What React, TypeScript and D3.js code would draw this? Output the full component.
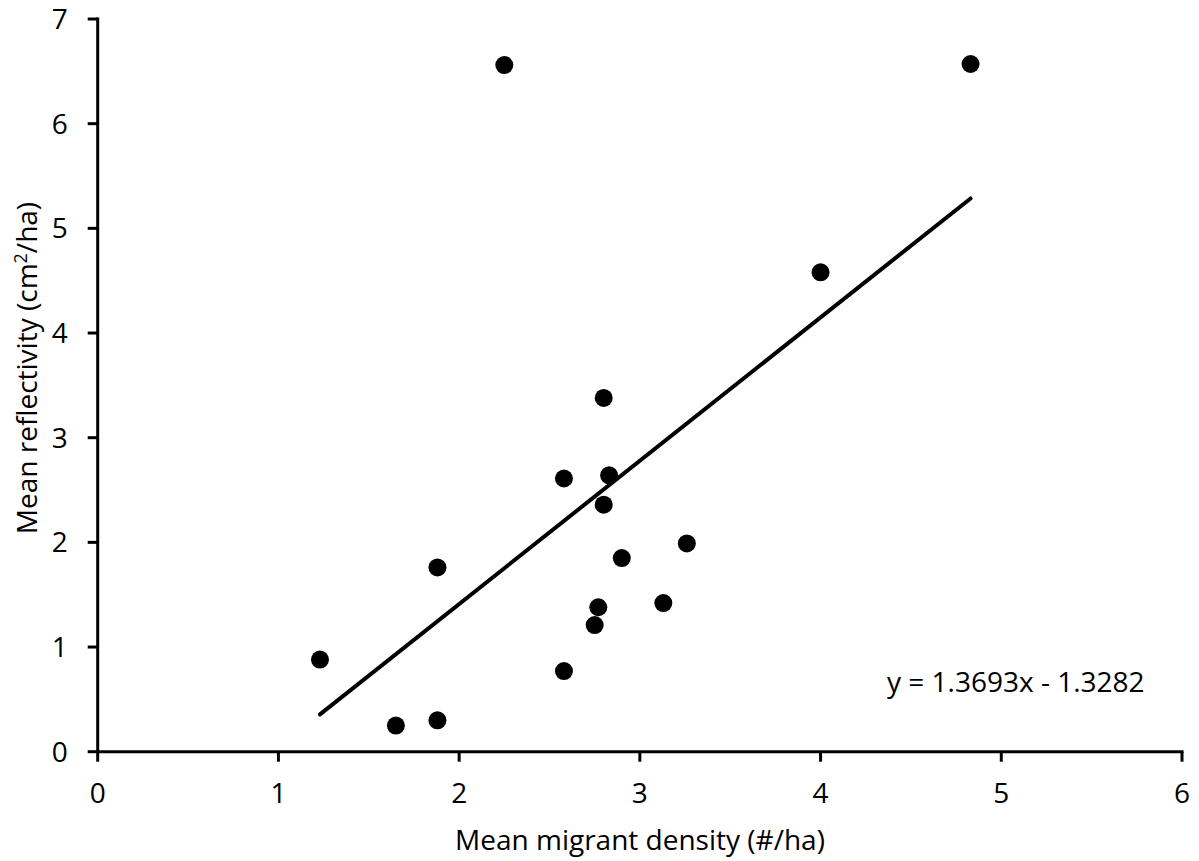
import React from "react";
import * as d3 from "d3";

const densityX = [1.23, 1.65, 1.88, 1.88, 2.25, 2.58, 2.58, 2.75, 2.77, 2.80, 2.80, 2.83, 2.90, 3.13, 3.26, 4.00, 4.83];
const reflectivityY = [0.88, 0.25, 0.30, 1.76, 6.56, 2.61, 0.77, 1.21, 1.38, 3.38, 2.36, 2.64, 1.85, 1.42, 1.99, 4.58, 6.57];
const xTicks = [0, 1, 2, 3, 4, 5, 6];
const yTicks = [0, 1, 2, 3, 4, 5, 6, 7];
const slope = 1.3693;
const intercept = -1.3282;
const trendRange = [1.23, 4.83];

const W = 1199, H = 861;
const FONT = "'Open Sans', 'Liberation Sans', sans-serif";

export default function App() {
  const x = d3.scaleLinear().domain([0, 6]).range([97.7, 1182]);
  const y = d3.scaleLinear().domain([0, 7]).range([751.7, 19]);
  const line = d3.line<number>().x(d => x(d)).y(d => y(slope * d + intercept));
  const fs = 28;
  return (
    <svg width={W} height={H} style={{ position: "absolute", left: 0, top: 0 }} fontFamily={FONT}>
      <rect width={W} height={H} fill="#fff" />
      <line x1={x(0)} x2={x(6) + 1.5} y1={y(0)} y2={y(0)} stroke="#000" strokeWidth={3} />
      <line x1={x(0)} x2={x(0)} y1={y(0)} y2={y(7) - 1.5} stroke="#000" strokeWidth={3} />
      {xTicks.map(t => (
        <g key={"x" + t}>
          <line x1={x(t)} x2={x(t)} y1={y(0)} y2={y(0) + 10} stroke="#000" strokeWidth={3} />
          <text x={x(t)} y={y(0) + 51} textAnchor="middle" fontSize={fs} fill="#000">{t}</text>
        </g>
      ))}
      {yTicks.map(t => (
        <g key={"y" + t}>
          <line x1={x(0) - 10} x2={x(0)} y1={y(t)} y2={y(t)} stroke="#000" strokeWidth={3} />
          <text x={x(0) - 30} y={y(t) + 10} textAnchor="end" fontSize={fs} fill="#000">{t}</text>
        </g>
      ))}
      <path d={line(trendRange) || ""} stroke="#000" strokeWidth={4} fill="none" strokeLinecap="round" />
      {densityX.map((d, i) => (
        <circle key={i} cx={x(d)} cy={y(reflectivityY[i])} r={9} fill="#000" />
      ))}
      <text x={887} y={692} fontSize={fs} fill="#000">y = 1.3693x - 1.3282</text>
      <text x={640} y={850} textAnchor="middle" fontSize={fs} fill="#000">Mean migrant density (#/ha)</text>
      <text transform={`translate(37,368) rotate(-90)`} textAnchor="middle" fontSize={fs} fill="#000">
        Mean reflectivity (cm<tspan dy={-10} fontSize={18}>2</tspan><tspan dy={10}>/ha)</tspan>
      </text>
    </svg>
  );
}
